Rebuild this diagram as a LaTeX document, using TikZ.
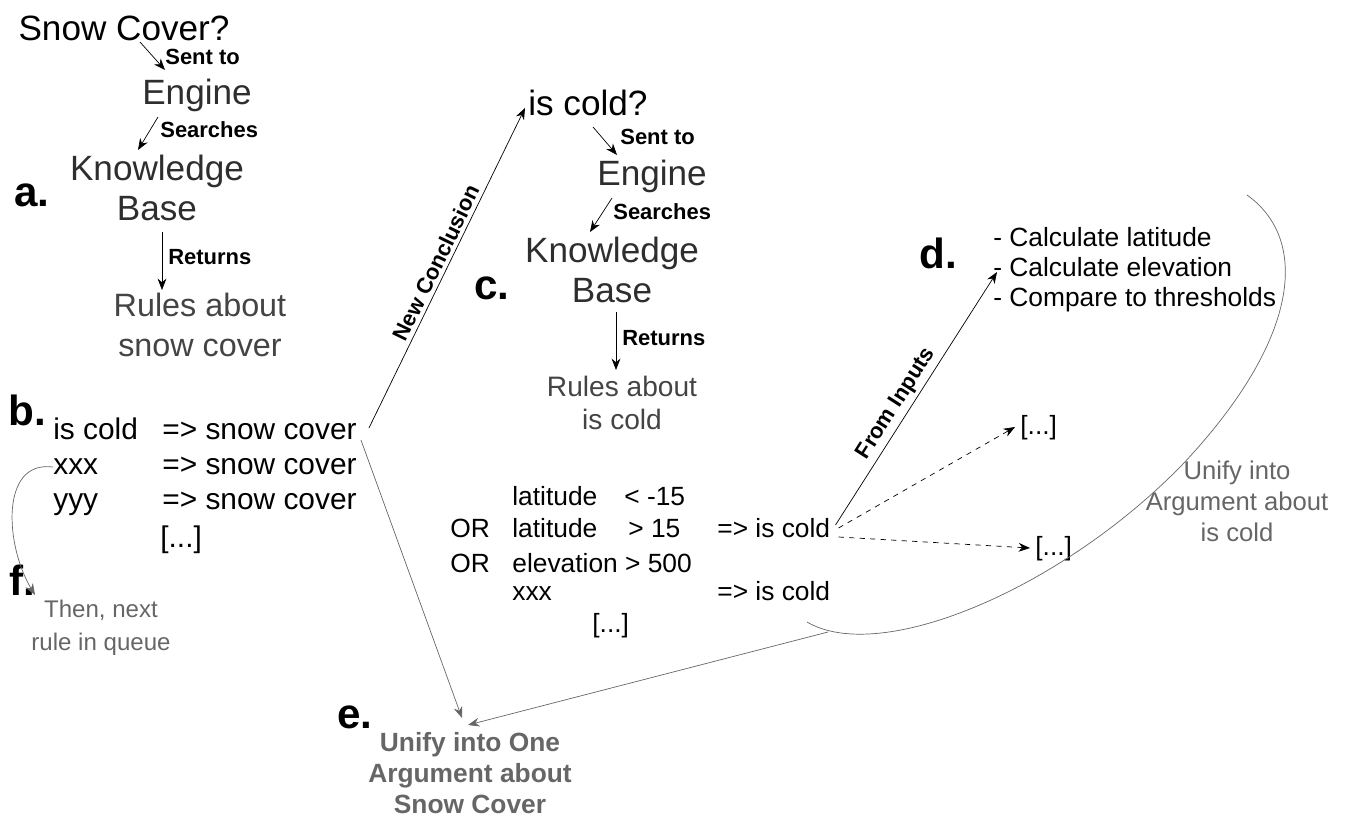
\documentclass[tikz,border=0pt]{standalone}
\usepackage{fontspec}
\setmainfont{Liberation Sans}
\usetikzlibrary{calc,positioning,arrows.meta}
\definecolor{darktext}{HTML}{2E2E2E}
\definecolor{midtext}{HTML}{444444}
\definecolor{greytext}{HTML}{666666}
\definecolor{greyline}{HTML}{666666}
\tikzset{
    big/.style={font=\fontsize{20}{23}\selectfont, text=darktext, align=center, inner sep=0pt},
    result/.style={font=\fontsize{18.4}{23}\selectfont, text=midtext, align=center, inner sep=0pt},
    small_result/.style={font=\fontsize{16}{19}\selectfont, text=midtext, align=center, inner sep=0pt},
    verb/.style={font=\bfseries\fontsize{12.5}{15}\selectfont, inner sep=0pt, anchor=west},
    letter/.style={font=\bfseries\fontsize{24}{28}\selectfont, inner sep=0pt},
    rule/.style={font=\fontsize{17}{20}\selectfont, inner sep=0pt, anchor=west, text height=0.95em, text depth=0.1em},
    cond/.style={font=\fontsize{15}{18}\selectfont, inner sep=0pt, anchor=west, text height=0.95em, text depth=0.1em},
    list/.style={font=\fontsize{15}{17}\selectfont, inner sep=0pt, anchor=west, align=left},
    note/.style={font=\fontsize{14.6}{17.6}\selectfont, text=greytext, align=center, inner sep=0pt},
    line/.style={-{Stealth[length=6.5pt,width=5pt]}, thin},
    gline/.style={line, draw=greyline},
    dline/.style={line, dashed},
    tag/.style={font=\bfseries\fontsize{12.5}{15}\selectfont, sloped, above, inner sep=2pt},
}
\begin{document}
\begin{tikzpicture}
        [x=0.02cm, y=-0.02cm]
        \useasboundingbox (0,0) rectangle (1348,818);

        % a. first query
        \node[big, text=black] (snow) at (124,28) {Snow Cover?};
        \node[verb] (sent1) at (165,57) {Sent to};
        \node[big] (eng1) at (197,95) {Engine};
        \node[verb] (search1) at (160,130) {Searches};
        \node[big] (kb1) at (157,188) {Knowledge\\Base};
        \node[verb] (ret1) at (168,257) {Returns};
        \node[result] (rules1) at (200,325) {Rules about\\snow cover};
        \node[letter] (la) at (32,195) {a.};

        \draw[line] ($(snow)+(16,14)$) -- ($(eng1)+(-32,-25)$);
        \draw[line] ($(eng1)+(-39,22)$) -- ($(kb1)+(-19,-38)$);
        \draw[line] ($(kb1)+(5,44)$) -- ($(rules1)+(-38,-35)$);

        % b. rules about snow cover
        \node[letter] (lb) at (27,410) {b.};
        \node[rule] (r1a) at (53,432) {is cold};
        \node[rule] (r1b) at (162,432) {=> snow cover};
        \node[rule] (r2a) at (53,467) {xxx};
        \node[rule] (r2b) at (162,467) {=> snow cover};
        \node[rule] (r3a) at (53,502) {yyy};
        \node[rule] (r3b) at (162,502) {=> snow cover};
        \node[rule] (r4) at (160,540) {[...]};

        % f. next rule
        \node[letter] (lf) at (22,580) {f.};
        \node[note, font=\fontsize{13.7}{18.8}\selectfont] (next) at (101,628) {Then, next\\rule in queue};
        \draw[gline] (r2a.west) .. controls (0,460) and (5,545) .. ($(next)+(-66,-33)$);

        % c. second query
        \node[big, text=black, anchor=west] (iscold) at (528,103) {is cold?};
        \node[verb] (sent2) at (620,137) {Sent to};
        \node[big, anchor=west] (eng2) at (597,176) {Engine};
        \node[verb] (search2) at (613,212) {Searches};
        \node[big] (kb2) at (612,270) {Knowledge\\Base};
        \node[letter] (lc) at (492,288) {c.};
        \node[verb] (ret2) at (622,338) {Returns};
        \node[small_result] (rules2) at (622,403) {Rules about\\is cold};

        \draw[line] ($(r1b.east)+(12,-4)$) -- node[tag] {New Conclusion} ($(iscold.west)+(-3,5)$);
        \draw[line] ($(iscold.west)+(65,24)$) -- ($(eng2.west)+(20,-21)$);
        \draw[line] ($(eng2.west)+(15,22)$) -- ($(kb2)+(-22,-38)$);
        \draw[line] ($(kb2)+(4,42)$) -- ($(rules2)+(-6,-33)$);

        % rules about is cold
        \node[cond] (lat1) at (512,498) {latitude};
        \node[cond] (lt) at (624,498) {< -15};
        \node[cond] (or1) at (450,530) {OR};
        \node[cond] (lat2) at (512,530) {latitude};
        \node[cond] (gt) at (628,530) {> 15};
        \node[cond] (then1) at (717,530) {=> is cold};
        \node[cond] (or2) at (450,565) {OR};
        \node[cond] (elev) at (512,565) {elevation > 500};
        \node[cond] (xxx2) at (512,593) {xxx};
        \node[cond] (then2) at (717,593) {=> is cold};
        \node[cond] (dots2) at (592,625) {[...]};

        % d. inputs
        \node[letter] (ld) at (938,253) {d.};
        \node[list] (calc) at (993,270)
            {- Calculate latitude\\- Calculate elevation\\- Compare to thresholds};
        \node[cond] (dotsA) at (1020,427) {[...]};
        \node[cond] (dotsB) at (1035,548) {[...]};
        \node[note] (unify1) at (1237,501) {Unify into\\Argument about\\is cold};

        \draw[line] ($(then1.east)+(5,-5)$) -- node[tag, pos=0.45] {From Inputs} ($(calc.west)+(4,2)$);
        \draw[dline] ($(then1.east)+(8,-2)$) -- ($(dotsA.west)+(-5,0)$);
        \draw[dline] ($(then1.east)+(8,7)$) -- ($(dotsB.west)+(-5,0)$);

        % Unify loop
        \draw[greyline, thin] (1247,195) .. controls (1310,240) and (1300,340) .. (1182,465)
            .. controls (1060,590) and (880,665) .. (807,622);
        \coordinate (arcfoot) at (828,632);

        % e. final argument
        \node[letter] (le) at (355,717) {e.};
        \node[note, font=\bfseries\fontsize{15}{17.5}\selectfont] (unify2) at (470,773)
            {Unify into One\\Argument about\\Snow Cover};
        \draw[gline] ($(r1b.east)+(4,8)$) -- ($(unify2)+(-8,-55)$);
        \draw[gline] (arcfoot) -- ($(unify2)+(-2,-48)$);
    \end{tikzpicture}
\end{document}
